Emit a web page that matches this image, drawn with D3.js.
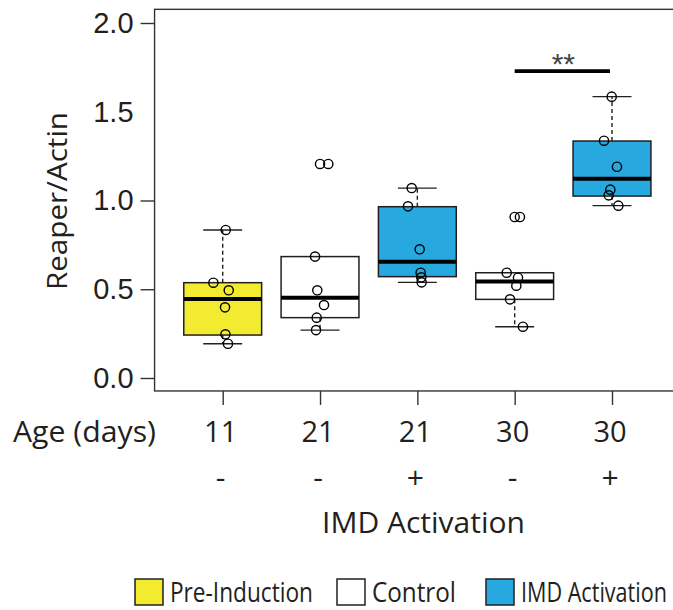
<!DOCTYPE html>
<html>
<head>
<meta charset="utf-8">
<script src="https://cdn.jsdelivr.net/npm/d3@7"></script>
<style>
  html, body { margin: 0; padding: 0; background: #fff; }
  #container { width: 673px; height: 610px; overflow: hidden; }
</style>
</head>
<body>
<div id="container"></div>
<script>
// group labels along the x axis
const ages = ["11", "21", "21", "30", "30"];
const imdSigns = ["-", "-", "+", "-", "+"];
const groupTypes = ["pre", "control", "imd", "control", "imd"];

// box statistics (Reaper/Actin)
const whiskerLow = [0.193, 0.270, 0.539, 0.289, 0.971];
const q1 = [0.242, 0.340, 0.571, 0.443, 1.025];
const medians = [0.445, 0.452, 0.655, 0.543, 1.123];
const q3 = [0.537, 0.684, 0.965, 0.593, 1.335];
const whiskerHigh = [0.834, 0.684, 1.070, 0.593, 1.585];

// individual points per group, with their horizontal jitter (in group units)
const pointValues = [
  [0.834, 0.537, 0.494, 0.398, 0.246, 0.193],
  [1.206, 1.206, 0.684, 0.494, 0.411, 0.340, 0.270],
  [1.070, 0.967, 0.725, 0.593, 0.567, 0.539],
  [0.907, 0.907, 0.593, 0.565, 0.520, 0.443, 0.289],
  [1.585, 1.337, 1.190, 1.061, 1.029, 0.971]
];
const pointJitter = [
  [0.031, -0.096, 0.062, 0.024, 0.028, 0.054],
  [0.0, 0.085, -0.051, -0.028, 0.041, -0.034, -0.041],
  [-0.058, -0.096, 0.024, 0.034, 0.041, 0.044],
  [0.0, 0.054, -0.082, 0.034, 0.017, -0.048, 0.085],
  [-0.003, -0.082, 0.051, -0.017, -0.034, 0.065]
];

const yTicks = [0, 0.5, 1.0, 1.5, 2.0];
const hiddenTickLines = [1.5];

// significance bracket between group 4 and 5
const sigGroups = [4, 5];
const sigValue = 1.729;
const sigLabel = "**";

const legendKeys = ["pre", "control", "imd"];
const legendLabels = ["Pre-Induction", "Control", "IMD Activation"];

const colors = {pre: "#f3eb2f", control: "#ffffff", imd: "#27a8df"};
const ink = "#231f20";
const sansFont = "'Open Sans', 'Noto Sans', sans-serif";
const axisFont = "'Liberation Sans', Arial, Helvetica, sans-serif";

const svg = d3.select("#container")
  .append("svg")
  .attr("width", 673)
  .attr("height", 610);

const x = d3.scaleLinear()
  .domain([1, 5])
  .range([222.7, 612]);

const y = d3.scaleLinear()
  .domain([0, 2])
  .range([378, 23]);

const boxHalf = 0.4;
const capHalf = 0.2;

// plot frame (right side runs off the canvas)
svg.append("rect")
  .attr("x", x(0.3))
  .attr("y", y(2.077))
  .attr("width", x(5.75) - x(0.3))
  .attr("height", y(-0.073) - y(2.077))
  .attr("fill", "none")
  .attr("stroke", "#333")
  .attr("stroke-width", 1.4);

// y axis
const yAxis = svg.append("g")
  .attr("transform", `translate(${x(0.3)},0)`)
  .call(d3.axisLeft(y).tickValues(yTicks).tickFormat(d3.format(".1f")).tickSize(14).tickPadding(7));
yAxis.select(".domain").remove();
yAxis.selectAll(".tick line")
  .attr("stroke", "#333")
  .attr("stroke-width", 1.4)
  .attr("opacity", d => hiddenTickLines.includes(d) ? 0 : 1);
yAxis.selectAll(".tick text")
  .attr("fill", ink)
  .style("font-family", axisFont)
  .style("font-size", "29px");

// x axis ticks (labels drawn separately)
const xAxis = svg.append("g")
  .attr("transform", `translate(0,${y(-0.073)})`)
  .call(d3.axisBottom(x).tickValues([1, 2, 3, 4, 5]).tickSize(14).tickFormat(""));
xAxis.select(".domain").remove();
xAxis.selectAll(".tick line")
  .attr("stroke", "#333")
  .attr("stroke-width", 1.4);

const groups = ages.map((a, i) => ({
  pos: i + 1,
  type: groupTypes[i],
  lo: whiskerLow[i], q1: q1[i], med: medians[i], q3: q3[i], hi: whiskerHigh[i],
  points: pointValues[i].map((v, j) => ({v, j: pointJitter[i][j]}))
}));

const g = svg.append("g");

groups.forEach(d => {
  // dashed whiskers
  g.append("line")
    .attr("x1", x(d.pos)).attr("x2", x(d.pos))
    .attr("y1", y(d.q3)).attr("y2", y(d.hi))
    .attr("stroke", ink).attr("stroke-width", 1.4)
    .attr("stroke-dasharray", "4,3");
  g.append("line")
    .attr("x1", x(d.pos)).attr("x2", x(d.pos))
    .attr("y1", y(d.q1)).attr("y2", y(d.lo))
    .attr("stroke", ink).attr("stroke-width", 1.4)
    .attr("stroke-dasharray", "4,3");

  // caps
  [d.lo, d.hi].forEach(v => {
    g.append("line")
      .attr("x1", x(d.pos - capHalf)).attr("x2", x(d.pos + capHalf))
      .attr("y1", y(v)).attr("y2", y(v))
      .attr("stroke", ink).attr("stroke-width", 1.4);
  });

  // box
  g.append("rect")
    .attr("x", x(d.pos - boxHalf))
    .attr("y", y(d.q3))
    .attr("width", x(d.pos + boxHalf) - x(d.pos - boxHalf))
    .attr("height", y(d.q1) - y(d.q3))
    .attr("fill", colors[d.type])
    .attr("stroke", ink)
    .attr("stroke-width", 1.5);

  // median
  g.append("line")
    .attr("x1", x(d.pos - boxHalf)).attr("x2", x(d.pos + boxHalf))
    .attr("y1", y(d.med)).attr("y2", y(d.med))
    .attr("stroke", "#000").attr("stroke-width", 4);
});

// points on top
groups.forEach(d => {
  g.selectAll(null)
    .data(d.points)
    .join("circle")
    .attr("cx", p => x(d.pos + p.j))
    .attr("cy", p => y(p.v))
    .attr("r", 4.6)
    .attr("fill", "none")
    .attr("stroke", "#000")
    .attr("stroke-width", 1.4);
});

// significance bar
svg.append("line")
  .attr("x1", x(sigGroups[0])).attr("x2", x(sigGroups[1]) - 2)
  .attr("y1", y(sigValue)).attr("y2", y(sigValue))
  .attr("stroke", "#000").attr("stroke-width", 3.6);
svg.append("text")
  .attr("x", (x(sigGroups[0]) + x(sigGroups[1])) / 2)
  .attr("y", y(sigValue) + 3)
  .attr("text-anchor", "middle")
  .style("font-family", axisFont)
  .style("font-size", "30px")
  .attr("fill", "#444")
  .text(sigLabel);

// y title
svg.append("text")
  .attr("transform", `translate(67,${201}) rotate(-90)`)
  .attr("text-anchor", "middle")
  .attr("textLength", 178)
  .attr("lengthAdjust", "spacingAndGlyphs")
  .style("font-family", sansFont)
  .style("font-size", "28px")
  .attr("fill", ink)
  .text("Reaper/Actin");

// age row
svg.append("text")
  .attr("x", 13).attr("y", 442)
  .attr("textLength", 143)
  .attr("lengthAdjust", "spacingAndGlyphs")
  .style("font-family", sansFont)
  .style("font-size", "29px")
  .attr("fill", ink)
  .text("Age (days)");

svg.selectAll(".age")
  .data(ages)
  .join("text")
  .attr("class", "age")
  .attr("x", (d, i) => x(i + 1) - 2)
  .attr("y", 442)
  .attr("text-anchor", "middle")
  .style("font-family", sansFont)
  .style("font-size", "29px")
  .attr("fill", ink)
  .text(d => d);

svg.selectAll(".imd")
  .data(imdSigns)
  .join("text")
  .attr("class", "imd")
  .attr("x", (d, i) => x(i + 1) - 2)
  .attr("y", 488)
  .attr("text-anchor", "middle")
  .style("font-family", sansFont)
  .style("font-size", "30px")
  .attr("fill", ink)
  .text(d => d);

svg.append("text")
  .attr("x", 322).attr("y", 533)
  .attr("textLength", 203)
  .attr("lengthAdjust", "spacingAndGlyphs")
  .style("font-family", sansFont)
  .style("font-size", "29px")
  .attr("fill", ink)
  .text("IMD Activation");

// legend (labels squeezed horizontally to the condensed widths of the original)
const legendX = [135, 337, 486];
const legendTextLen = [143, 84, 146];
legendKeys.forEach((key, i) => {
  const item = svg.append("g")
    .attr("transform", `translate(${legendX[i]},579)`);
  item.append("rect")
    .attr("width", 28)
    .attr("height", 26)
    .attr("fill", colors[key])
    .attr("stroke", ink)
    .attr("stroke-width", 1.5);
  const label = item.append("text")
    .style("font-family", sansFont)
    .style("font-size", "27px")
    .attr("fill", ink)
    .text(legendLabels[i]);
  const w = label.node().getComputedTextLength();
  label.attr("transform", `translate(35,23) scale(${legendTextLen[i] / w},1)`);
});
</script>
</body>
</html>
